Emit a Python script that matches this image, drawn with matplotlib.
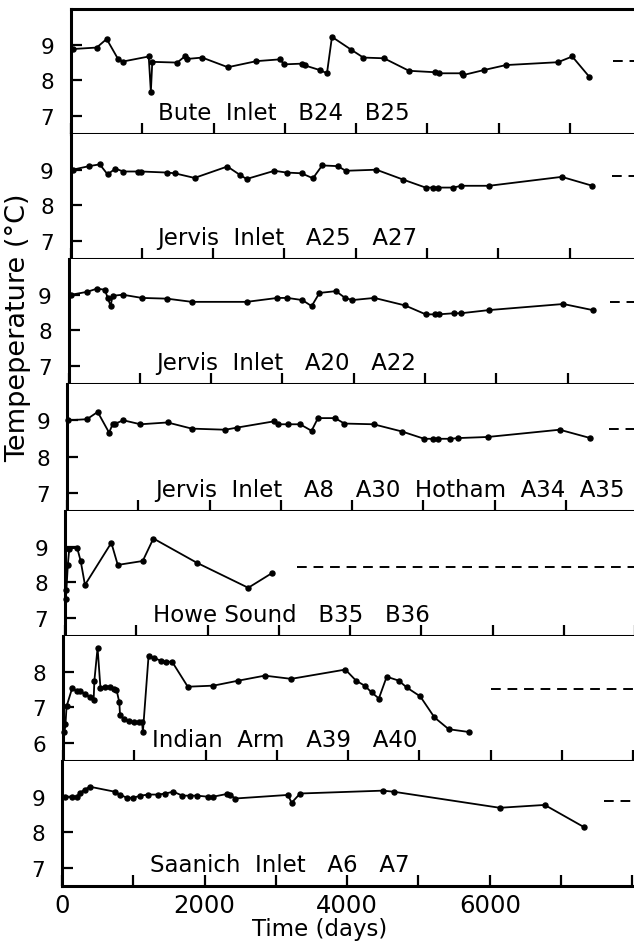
import matplotlib
matplotlib.use("Agg")
import matplotlib.pyplot as plt

# ---------------- data (days, °C) ----------------
bute_days = [30, 360, 500, 660, 730, 1090, 1120, 1140, 1490, 1600, 1620, 1840, 2200, 2600, 2930,
             2990, 3240, 3280, 3490, 3590, 3660, 3930, 4100, 4390, 4740, 5100, 5160, 5490, 5500,
             5790, 6100, 6830, 7030, 7270]
bute_temp = [8.88, 8.92, 9.16, 8.6, 8.53, 8.67, 7.68, 8.52, 8.5, 8.68, 8.6, 8.64, 8.37, 8.54, 8.59,
             8.45, 8.47, 8.42, 8.29, 8.2, 9.22, 8.86, 8.64, 8.62, 8.27, 8.23, 8.2, 8.2, 8.15,
             8.29, 8.43, 8.51, 8.67, 8.1]
bute_ref = 8.54

j25_days = [30, 260, 410, 520, 630, 740, 950, 990, 1360, 1460, 1740, 2200, 2380, 2470, 2860, 3030,
            3240, 3400, 3530, 3750, 3860, 4290, 4670, 4980, 5090, 5160, 5370, 5480, 5870, 6890, 7320]
j25_temp = [9.0, 9.1, 9.15, 8.87, 9.03, 8.95, 8.95, 8.95, 8.92, 8.9, 8.77, 9.09, 8.85, 8.74, 8.97, 8.92,
            8.9, 8.76, 9.12, 9.1, 8.97, 9.0, 8.72, 8.5, 8.5, 8.5, 8.5, 8.55, 8.55, 8.8, 8.55]
j25_ref = 8.83

j20_days = [40, 260, 400, 510, 550, 590, 620, 760, 1030, 1380, 1730, 2500, 2930, 3070, 3280, 3410,
            3520, 3750, 3880, 3980, 4290, 4720, 5010, 5140, 5190, 5400, 5500, 5900, 6940, 7350]
j20_temp = [9.0, 9.08, 9.17, 9.14, 8.91, 8.69, 8.97, 9.0, 8.91, 8.89, 8.8, 8.8, 8.91, 8.91, 8.85, 8.68,
            9.05, 9.1, 8.91, 8.85, 8.91, 8.7, 8.45, 8.45, 8.45, 8.48, 8.48, 8.57, 8.74, 8.57]
j20_ref = 8.8

j8_days = [20, 280, 430, 590, 640, 680, 790, 1030, 1410, 1750, 2220, 2390, 2900, 2960, 3100, 3270,
           3430, 3520, 3760, 3890, 4300, 4700, 5010, 5140, 5210, 5370, 5490, 5900, 6910, 7340]
j8_temp = [9.0, 9.03, 9.23, 8.66, 8.89, 8.91, 9.0, 8.89, 8.94, 8.77, 8.74, 8.8, 8.97, 8.89, 8.89, 8.89,
           8.71, 9.06, 9.06, 8.91, 8.89, 8.69, 8.49, 8.49, 8.49, 8.49, 8.51, 8.54, 8.74, 8.51]
j8_ref = 8.77

howe_days = [10, 20, 40, 60, 170, 220, 280, 650, 740, 1090, 1240, 1850, 2570, 2910]
howe_temp = [7.55, 7.8, 8.5, 8.95, 8.97, 8.6, 7.93, 9.11, 8.49, 8.6, 9.23, 8.55, 7.85, 8.27]
howe_ref = 8.43

indian_days = [20, 35, 50, 130, 190, 245, 315, 385, 430, 440, 485, 525, 595, 665, 720, 750, 790,
               800, 850, 920, 990, 1060, 1110, 1120, 1200, 1270, 1370, 1450, 1530, 1750, 2110, 2460,
               2830, 3200, 3960, 4110, 4230, 4330, 4430, 4540, 4710, 4820, 5010, 5210, 5410, 5700]
indian_temp = [6.3, 6.53, 7.03, 7.55, 7.45, 7.45, 7.37, 7.28, 7.22, 7.75, 8.67, 7.55, 7.58, 7.58, 7.53,
               7.5, 7.14, 6.78, 6.69, 6.61, 6.58, 6.58, 6.58, 6.3, 8.44, 8.39, 8.31, 8.28, 8.28, 7.58,
               7.61, 7.75, 7.89, 7.8, 8.06, 7.75, 7.61, 7.42, 7.25, 7.86, 7.75, 7.56, 7.31, 6.72, 6.39, 6.31]
indian_ref = 7.51

saanich_days = [40, 140, 210, 250, 320, 390, 740, 810, 910, 1000, 1100, 1210, 1350, 1450, 1560, 1690,
                1800, 1890, 2050, 2120, 2320, 2360, 2430, 3170, 3220, 3340, 4500, 4650, 6140, 6770, 7320]
saanich_temp = [9.0, 9.0, 9.0, 9.11, 9.2, 9.28, 9.14, 9.06, 8.97, 8.97, 9.03, 9.06, 9.06, 9.09, 9.14, 9.03,
                9.03, 9.03, 9.0, 9.0, 9.08, 9.05, 8.95, 9.05, 8.83, 9.09, 9.17, 9.14, 8.69, 8.77, 8.15]
saanich_ref = 8.89

labels = ["Bute  Inlet   B24   B25", "Jervis  Inlet   A25   A27", "Jervis  Inlet   A20   A22",
          "Jervis  Inlet   A8   A30  Hotham  A34  A35", "Howe Sound   B35   B36",
          "Indian  Arm   A39   A40", "Saanich  Inlet   A6   A7"]
ref_start = [7600, 7600, 7600, 7600, 3250, 6000, 7600]
xtick_vals = [0, 2000, 4000, 6000]
xtick_labels = ["0", "2000", "4000", "6000"]

series = [(bute_days, bute_temp, bute_ref), (j25_days, j25_temp, j25_ref),
          (j20_days, j20_temp, j20_ref), (j8_days, j8_temp, j8_ref),
          (howe_days, howe_temp, howe_ref), (indian_days, indian_temp, indian_ref),
          (saanich_days, saanich_temp, saanich_ref)]

# ---------------- layout ----------------
W, H = 634, 945
fig = plt.figure(figsize=(W / 100, H / 100), dpi=100)
plt.rcParams['font.family'] = ['DejaVu Sans']

tops = [10, 135, 260, 385, 512, 637, 762]
bottoms = [135, 260, 385, 512, 637, 762, 887]
zeros = [71, 70.5, 68.5, 67, 65, 63, 62]
label_left = [158, 157, 156, 155, 153, 152, 150]
px_per_day = 71.3 / 1000
xmax = 8030
width_px = xmax * px_per_day

for i, (d, t, r) in enumerate(series):
    top, bot, z = tops[i], bottoms[i], zeros[i]
    ax = fig.add_axes([z / W, 1 - bot / H, width_px / W, (bot - top) / H])
    if i == 5:
        ax.set_ylim(5.5, 9.0)
        ax.set_yticks([6, 7, 8])
    else:
        ax.set_ylim(6.5, 10.0)
        ax.set_yticks([7, 8, 9])
    ax.set_xlim(0, xmax)
    ax.plot(d, t, '-o', color='black', lw=1.3, ms=3.6, mfc='black', mec='black', clip_on=False)
    ax.plot([ref_start[i], xmax + 200], [r, r], color='black', lw=1.4,
            dashes=(5, 3.5), clip_on=False)
    ax.text((label_left[i] - z) / width_px, 0.12, labels[i], transform=ax.transAxes,
            fontsize=16.5, ha='left', va='baseline')
    ax.spines['right'].set_visible(False)
    ax.spines['top'].set_visible(i == 0)
    for s in ['left', 'bottom', 'top']:
        ax.spines[s].set_linewidth(2.2)
    ax.set_xticks(range(0, 8001, 1000))
    ax.tick_params(axis='both', direction='in', length=8, width=1.6)
    ax.tick_params(axis='y', labelsize=15.5, pad=12)
    if i == 6:
        ax.set_xticks(range(0, 8001, 1000),
                      [xtick_labels[xtick_vals.index(v)] if v in xtick_vals else ""
                       for v in range(0, 8001, 1000)])
        ax.tick_params(axis='x', labelsize=17.5, pad=5)
    else:
        ax.set_xticklabels([])

fig.text(18 / W, 1 - 328 / H, "Tempeperature (°C)", rotation=90, fontsize=19.5,
         ha='center', va='center')
fig.text(320 / W, 1 - 930 / H, "Time (days)", fontsize=16.5, ha='center', va='center')

fig.savefig("out.png", dpi=100)
